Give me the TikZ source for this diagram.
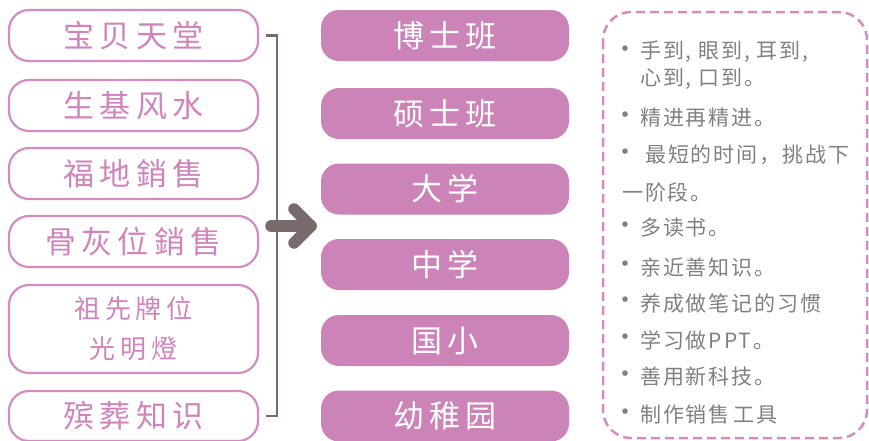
\documentclass[tikz,border=0pt]{standalone}
\usepackage{fontspec}
\setmainfont{Noto Sans CJK SC}
\definecolor{pinkline}{HTML}{D48BC2}
\definecolor{pinktext}{HTML}{D084BC}
\definecolor{pinkfill}{HTML}{CC84B8}
\definecolor{arrowgray}{HTML}{776B6B}
\definecolor{textgray}{HTML}{808080}
\newcommand{\bigcjk}{\fontsize{31}{36}\selectfont\addfontfeatures{LetterSpace=17}}
\newcommand{\midcjk}{\fontsize{26}{40}\selectfont\addfontfeatures{LetterSpace=18}}
\newcommand{\smallcjk}{\fontsize{21}{24}\selectfont\addfontfeatures{LetterSpace=9}}
\begin{document}
\begin{tikzpicture}[x=1pt,y=-1pt,
  lbox/.style={draw=pinkline, line width=2.2pt, rounded corners=20pt, minimum width=249pt, minimum height=51pt, inner sep=0pt, text=pinktext, font=\bigcjk, align=center},
  mbox/.style={fill=pinkfill, rounded corners=18pt, minimum width=248pt, minimum height=51pt, inner sep=0pt, text=white, font=\bigcjk},
  item/.style={anchor=west, inner sep=0pt, text=textgray, font=\smallcjk},
  dot/.style={inner sep=0pt, text=textgray, font=\fontsize{26}{26}\selectfont}]
\useasboundingbox (0,0) rectangle (869,440);
% left boxes
\node[lbox] (L1) at (133.5,35.5) {宝贝天堂};
\node[lbox] (L2) at (133.5,105.5) {生基风水};
\node[lbox] (L3) at (133.5,173.5) {福地銷售};
\node[lbox] (L4) at (133.5,241.5) {骨灰位銷售};
\node[lbox, minimum height=88pt, font=\midcjk] (L5) at (133.5,329) {祖先牌位\\光明燈};
\node[lbox, minimum height=50pt] (L6) at (133.5,416) {殡葬知识};
% bracket
\draw[arrowgray, line width=2.5pt] ([xshift=7pt]L1.east) -- ++(11,0) |- ([xshift=7pt]L6.east);
% arrow
\coordinate (as) at (271,226);
\coordinate (ae) at (311,226);
\coordinate (au) at (294,209);
\coordinate (ad) at (294,243);
\draw[arrowgray, line width=11.5pt, line cap=round, line join=round] (as) -- (ae);
\draw[arrowgray, line width=11.5pt, line cap=round, line join=round] (au) -- (ae) -- (ad);
% middle boxes
\node[mbox] (M1) at (445,35.5) {博士班};
\node[mbox] (M2) at (445,113.5) {硕士班};
\node[mbox] (M3) at (445,189) {大学};
\node[mbox] (M4) at (445,264.5) {中学};
\node[mbox] (M5) at (445,340.5) {国小};
\node[mbox] (M6) at (445,416) {幼稚园};
% right dashed box
\draw[pinkline, line width=2.5pt, dash pattern=on 9pt off 5pt, rounded corners=28pt] (603,12) rectangle (867,438);
\node[dot] (b1) at (625,52) {•};
\node[item] (t1) at (640,52) {手到, 眼到, 耳到,};
\node[item] (t2) at (640,79) {心到, 口到。};
\node[dot] (b3) at (625,118) {•};
\node[item] (t3) at (640,118) {精进再精进。};
\node[dot] (b4) at (625,155) {•};
\node[item] (t4) at (645,155) {最短的时间，挑战下};
\node[item] (t5) at (622,192) {一阶段。};
\node[dot] (b6) at (625,228) {•};
\node[item] (t6) at (640,228) {多读书。};
\node[dot] (b7) at (625,267) {•};
\node[item] (t7) at (640,267) {亲近善知识。};
\node[dot] (b8) at (625,303) {•};
\node[item] (t8) at (640,303) {养成做笔记的习惯};
\node[dot] (b9) at (625,340) {•};
\node[item] (t9) at (640,340) {学习做PPT。};
\node[dot] (b10) at (625,377) {•};
\node[item] (t10) at (640,377) {善用新科技。};
\node[dot] (b11) at (625,415) {•};
\node[item] (t11) at (640,415) {制作销售\hspace{4pt}工具};
\end{tikzpicture}
\end{document}
